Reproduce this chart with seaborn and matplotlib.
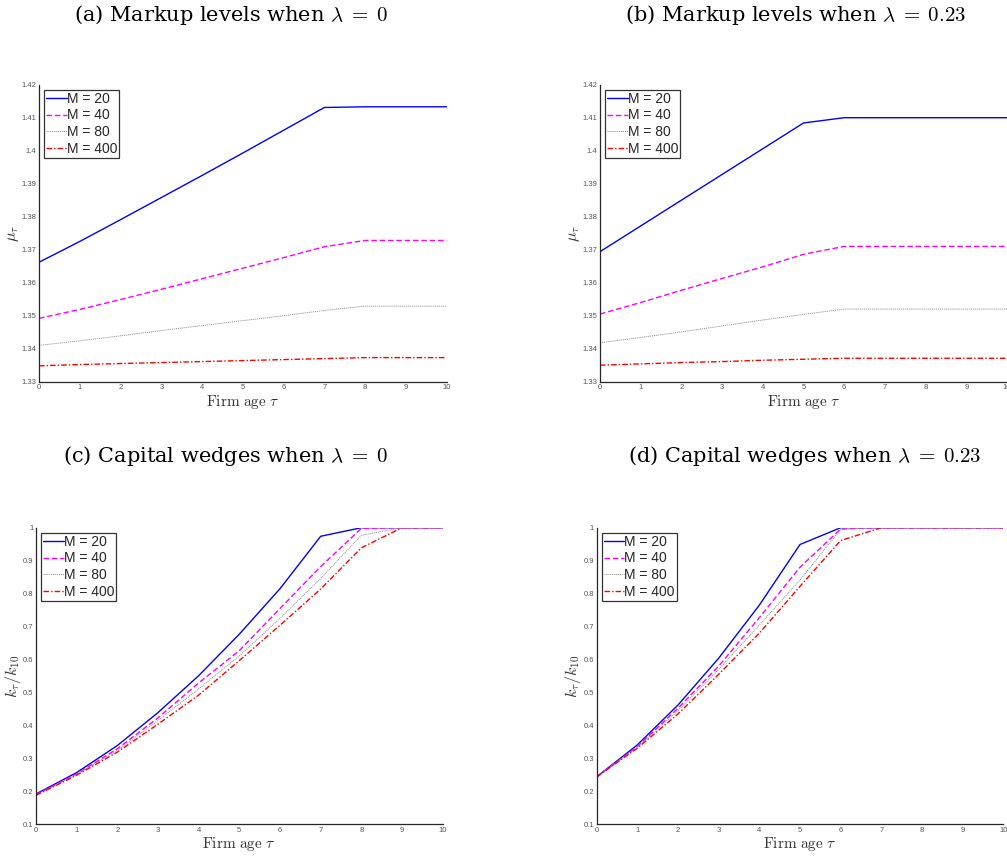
import numpy as np
import pandas as pd
import matplotlib
matplotlib.use("Agg")
import matplotlib.pyplot as plt
import seaborn as sns

# Firm age grid
ages = list(range(0, 11))
series_labels = ["M = 20", "M = 40", "M = 80", "M = 400"]

# Markup levels, lambda = 0
mu_lam0_m20 = [1.3662, 1.3725, 1.3791, 1.3858, 1.3925, 1.3993, 1.4062, 1.4131, 1.4133, 1.4133, 1.4133]
mu_lam0_m40 = [1.3492, 1.3519, 1.3549, 1.3580, 1.3612, 1.3644, 1.3676, 1.3709, 1.3728, 1.3728, 1.3728]
mu_lam0_m80 = [1.3410, 1.3424, 1.3439, 1.3455, 1.3470, 1.3485, 1.3500, 1.3516, 1.3529, 1.3529, 1.3529]
mu_lam0_m400 = [1.3348, 1.3352, 1.3355, 1.3358, 1.3361, 1.3364, 1.3367, 1.3370, 1.3373, 1.3373, 1.3373]

# Markup levels, lambda = 0.23
mu_lam23_m20 = [1.3694, 1.3772, 1.3850, 1.3928, 1.4006, 1.4084, 1.4100, 1.4100, 1.4100, 1.4100, 1.4100]
mu_lam23_m40 = [1.3505, 1.3540, 1.3577, 1.3613, 1.3648, 1.3686, 1.3710, 1.3710, 1.3710, 1.3710, 1.3710]
mu_lam23_m80 = [1.3418, 1.3434, 1.3451, 1.3469, 1.3487, 1.3504, 1.3520, 1.3520, 1.3520, 1.3520, 1.3520]
mu_lam23_m400 = [1.3350, 1.3354, 1.3358, 1.3361, 1.3365, 1.3368, 1.3371, 1.3371, 1.3371, 1.3371, 1.3371]

# Capital wedges k_tau / k_10, lambda = 0
kw_lam0_m20 = [0.192, 0.257, 0.339, 0.439, 0.551, 0.677, 0.815, 0.974, 1.0, 1.0, 1.0]
kw_lam0_m40 = [0.190, 0.253, 0.329, 0.423, 0.529, 0.627, 0.755, 0.882, 0.998, 1.0, 1.0]
kw_lam0_m80 = [0.190, 0.251, 0.324, 0.415, 0.511, 0.611, 0.725, 0.846, 0.977, 1.0, 1.0]
kw_lam0_m400 = [0.188, 0.249, 0.319, 0.404, 0.492, 0.597, 0.704, 0.814, 0.939, 1.0, 1.0]

# Capital wedges k_tau / k_10, lambda = 0.23
kw_lam23_m20 = [0.244, 0.341, 0.462, 0.604, 0.765, 0.949, 1.0, 1.0, 1.0, 1.0, 1.0]
kw_lam23_m40 = [0.244, 0.336, 0.452, 0.580, 0.727, 0.880, 0.996, 1.0, 1.0, 1.0, 1.0]
kw_lam23_m80 = [0.244, 0.334, 0.445, 0.570, 0.705, 0.841, 0.995, 1.0, 1.0, 1.0, 1.0]
kw_lam23_m400 = [0.244, 0.331, 0.435, 0.555, 0.680, 0.822, 0.961, 1.0, 1.0, 1.0, 1.0]

markup_ticks = [1.33, 1.34, 1.35, 1.36, 1.37, 1.38, 1.39, 1.40, 1.41, 1.42]
markup_ticklabels = ["1.33", "1.34", "1.35", "1.36", "1.37", "1.38", "1.39", "1.4", "1.41", "1.42"]
wedge_ticks = [0.1, 0.2, 0.3, 0.4, 0.5, 0.6, 0.7, 0.8, 0.9, 1.0]
wedge_ticklabels = ["0.1", "0.2", "0.3", "0.4", "0.5", "0.6", "0.7", "0.8", "0.9", "1"]

titles = [
    r"(a) Markup levels when $\lambda\;=\;0$",
    r"(b) Markup levels when $\lambda\;=\;0.23$",
    r"(c) Capital wedges when $\lambda\;=\;0$",
    r"(d) Capital wedges when $\lambda\;=\;0.23$",
]

sns.set_theme(style="white")
plt.rcParams["font.family"] = ["Liberation Sans", "DejaVu Sans"]
plt.rcParams["mathtext.fontset"] = "cm"

line_styles = [
    dict(color="#0000ff", linestyle="-", linewidth=1.0),
    dict(color="#ff00ff", linestyle=(0, (4, 2)), linewidth=1.0),
    dict(color="#8a8a8a", linestyle=(0, (1, 1)), linewidth=0.7),
    dict(color="#ff0000", linestyle=(0, (4, 1.5, 1, 1.5)), linewidth=1.0),
]

fig = plt.figure(figsize=(10.07, 8.57), dpi=100)
W, H = 1007.0, 857.0

def axes_rect(left, right, top, bottom):
    return [left / W, 1 - bottom / H, (right - left) / W, (bottom - top) / H]

panels = [
    dict(rect=axes_rect(39, 446.7, 84.7, 381.7),
         data=[mu_lam0_m20, mu_lam0_m40, mu_lam0_m80, mu_lam0_m400],
         ylim=(1.33, 1.42), ticks=markup_ticks, ticklabels=markup_ticklabels,
         ylabel=r"$\mu_\tau$", title_x=231, title_y=15),
    dict(rect=axes_rect(600, 1007, 84.7, 381.7),
         data=[mu_lam23_m20, mu_lam23_m40, mu_lam23_m80, mu_lam23_m400],
         ylim=(1.33, 1.42), ticks=markup_ticks, ticklabels=markup_ticklabels,
         ylabel=r"$\mu_\tau$", title_x=796, title_y=15),
    dict(rect=axes_rect(36, 442.7, 527.7, 824.3),
         data=[kw_lam0_m20, kw_lam0_m40, kw_lam0_m80, kw_lam0_m400],
         ylim=(0.1, 1.0), ticks=wedge_ticks, ticklabels=wedge_ticklabels,
         ylabel=r"$k_\tau/k_{10}$", title_x=226, title_y=456),
    dict(rect=axes_rect(596.7, 1003.3, 527.7, 824.3),
         data=[kw_lam23_m20, kw_lam23_m40, kw_lam23_m80, kw_lam23_m400],
         ylim=(0.1, 1.0), ticks=wedge_ticks, ticklabels=wedge_ticklabels,
         ylabel=r"$k_\tau/k_{10}$", title_x=805, title_y=456),
]

axis_color = "#262626"
tick_color = "#555555"

for panel, title in zip(panels, titles):
    ax = fig.add_axes(panel["rect"])
    for values, label, st in zip(panel["data"], series_labels, line_styles):
        df = pd.DataFrame({"age": ages, "value": values})
        sns.lineplot(data=df, x="age", y="value", ax=ax, label=label, **st)
    ax.set_xlim(0, 10)
    ax.set_ylim(*panel["ylim"])
    ax.set_xticks(ages)
    ax.set_xticklabels([str(a) for a in ages])
    ax.set_yticks(panel["ticks"])
    ax.set_yticklabels(panel["ticklabels"])
    ax.tick_params(axis="both", direction="in", length=3, width=0.8,
                   labelsize=5.5, colors=axis_color, labelcolor=tick_color, pad=2)
    for side in ("top", "right"):
        ax.spines[side].set_visible(False)
    for side in ("left", "bottom"):
        ax.spines[side].set_color(axis_color)
        ax.spines[side].set_linewidth(0.9)
    ax.set_xlabel(r"$\mathrm{Firm\ age}\ \tau$", fontsize=11, color="#333333", labelpad=1)
    ax.set_ylabel(panel["ylabel"], fontsize=11.5, color="#333333", labelpad=0)
    leg = ax.legend(loc="upper left", fontsize=10, frameon=True, fancybox=False,
                    edgecolor="#333333", framealpha=1, borderpad=0.15,
                    labelspacing=0.2, handlelength=1.5, handletextpad=0.0,
                    borderaxespad=0.35)
    leg.get_frame().set_linewidth(0.9)
    fig.text(panel["title_x"] / W, 1 - panel["title_y"] / H, title,
             ha="center", va="center", fontsize=15,
             family=["DejaVu Serif"], color="black")

fig.savefig("out.png", dpi=100)
